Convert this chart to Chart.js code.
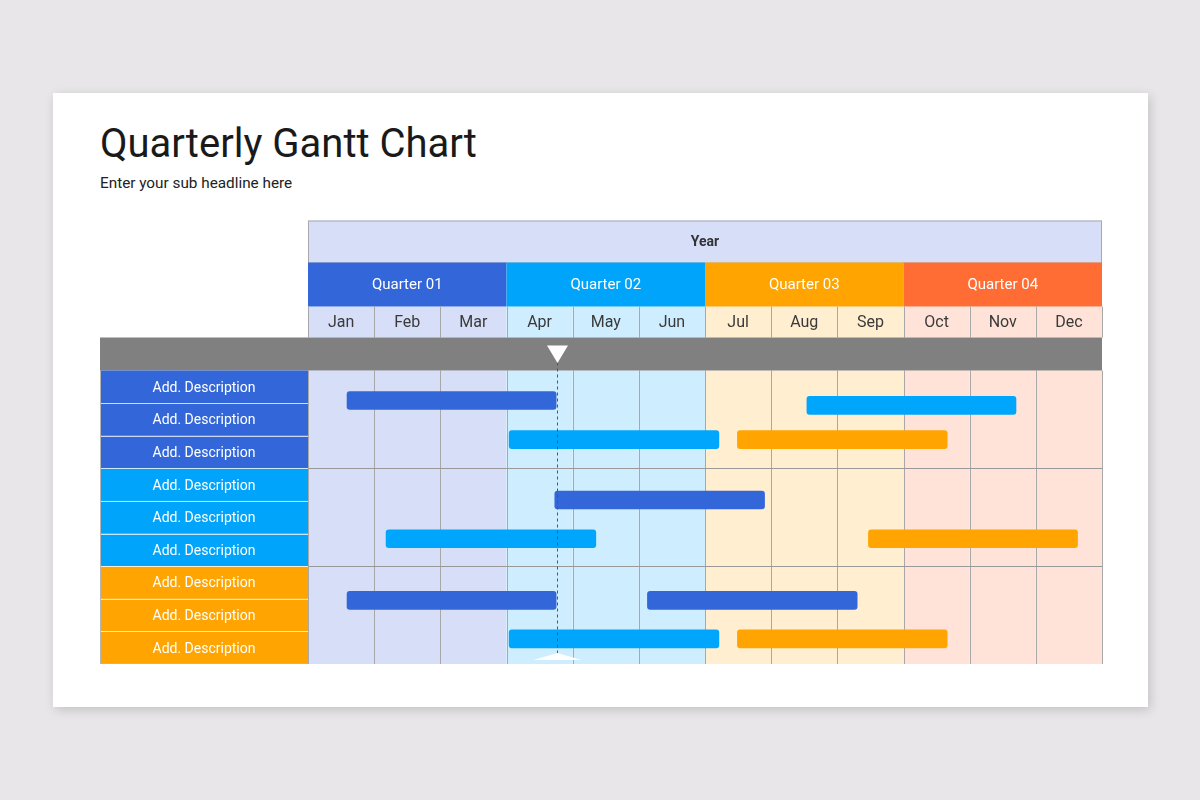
<!DOCTYPE html>
<html>
<head>
<meta charset="utf-8">
<script src="https://cdn.jsdelivr.net/npm/chart.js@4.4.1/dist/chart.umd.min.js"></script>
<style>
    html, body { margin: 0; padding: 0; background: #e8e6e8; width: 1200px; height: 800px; overflow: hidden; font-family: Roboto, "Noto Sans", sans-serif; }
    #card { position: absolute; left: 53px; top: 93px; width: 1095px; height: 614px; background: #fff; box-shadow: 2px 3px 10px rgba(0,0,0,.16); }
    #title { position: absolute; left: 100px; top: 124px; margin: 0; font-size: 40px; line-height: 40px; font-weight: 400; color: #1a1a1a; }
    #sub { position: absolute; left: 100px; top: 176px; font-size: 15.3px; line-height: 15px; color: #222; }
    #gantt { position: absolute; left: 0; top: 0; }
</style>
</head>
<body>
<div id="card"></div>
<h1 id="title">Quarterly Gantt Chart</h1>
<div id="sub">Enter your sub headline here</div>
<canvas id="gantt" width="1200" height="800"></canvas>
<script>
// ============================
// Data
// ============================
const YEAR_LABEL = "Year";
const QUARTERS = ["Quarter 01", "Quarter 02", "Quarter 03", "Quarter 04"];
const MONTHS = ["Jan", "Feb", "Mar", "Apr", "May", "Jun", "Jul", "Aug", "Sep", "Oct", "Nov", "Dec"];
const ROW_LABELS = [
    "Add. Description", "Add. Description", "Add. Description",
    "Add. Description", "Add. Description", "Add. Description",
    "Add. Description", "Add. Description", "Add. Description"
];

// task bars: start / end in months from Jan 1, lane = row position (0 = top of first row)
const TASK_START = [0.59, 7.54, 3.04, 6.49, 3.73, 1.18, 8.47, 0.59, 5.13, 3.04, 6.49];
const TASK_END   = [3.75, 10.70, 6.21, 9.66, 6.90, 4.35, 11.63, 3.75, 8.30, 6.21, 9.66];
const TASK_LANE  = [0.92, 1.07, 2.12, 2.12, 3.97, 5.16, 5.16, 7.05, 7.05, 8.23, 8.23];
const TASK_KIND  = [0, 1, 1, 2, 0, 1, 2, 0, 0, 1, 2];   // 0 = Q1 blue, 1 = Q2 blue, 2 = Q3 orange

const TODAY = 3.76;   // "now" marker, in months

// ============================
// Styles
// ============================
const QUARTER_COLORS = ["#3367d9", "#00a5fb", "#ffa400", "#ff6d34"];
const MONTH_FILLS    = ["#d6dff7", "#ceedfe", "#ffeecf", "#ffe3d8"];
const GROUP_COLORS   = ["#3367d9", "#00a5fb", "#ffa400"];
const KIND_COLORS    = ["#3367d9", "#00a6fb", "#ffa400"];
const FONT = "Roboto, 'Noto Sans', sans-serif";

const tasks = TASK_START.map((s, i) => ({ x: [s, TASK_END[i]], y: TASK_LANE[i] }));

// ============================
// Frame plugin (header rows, columns, labels)
// ============================
const ganttFrame = {
    id: "ganttFrame",
    beforeDatasetsDraw(chart) {
        const { ctx, chartArea: a, scales: { x, y } } = chart;
        const grayTop = a.top - 33, monthTop = a.top - 64, qTop = a.top - 108, yearTop = a.top - 150;
        const labelLeft = 100;

        ctx.save();

        // month columns (body + month header)
        for (let m = 0; m < MONTHS.length; m++) {
            const x0 = x.getPixelForValue(m), x1 = x.getPixelForValue(m + 1);
            ctx.fillStyle = MONTH_FILLS[Math.floor(m / 3)];
            ctx.fillRect(x0, a.top, x1 - x0, a.bottom - a.top);
            ctx.fillRect(x0, monthTop, x1 - x0, grayTop - monthTop);
        }

        // year row
        ctx.fillStyle = "#d6dff7";
        ctx.fillRect(a.left, yearTop, a.right - a.left, qTop - yearTop);
        ctx.strokeStyle = "#a9a9a9";
        ctx.lineWidth = 1;
        ctx.strokeRect(a.left + 0.5, yearTop + 0.5, a.right - a.left - 1, qTop - yearTop);
        ctx.fillStyle = "#333";
        ctx.font = "bold 14px " + FONT;
        ctx.textAlign = "center";
        ctx.textBaseline = "middle";
        ctx.fillText(YEAR_LABEL, (a.left + a.right) / 2, (yearTop + qTop) / 2 + 1);

        // quarter row
        for (let q = 0; q < QUARTERS.length; q++) {
            const x0 = x.getPixelForValue(q * 3), x1 = x.getPixelForValue(q * 3 + 3);
            ctx.fillStyle = QUARTER_COLORS[q];
            ctx.fillRect(x0, qTop, x1 - x0, monthTop - qTop);
            ctx.fillStyle = "#fff";
            ctx.font = "15px " + FONT;
            ctx.fillText(QUARTERS[q], (x0 + x1) / 2, (qTop + monthTop) / 2 + 1);
        }

        // month labels + separators
        ctx.font = "16px " + FONT;
        for (let m = 0; m < MONTHS.length; m++) {
            const x0 = x.getPixelForValue(m), x1 = x.getPixelForValue(m + 1);
            ctx.fillStyle = "#3a3a3a";
            ctx.fillText(MONTHS[m], (x0 + x1) / 2, (monthTop + grayTop) / 2 + 1);
        }
        ctx.strokeStyle = "#a8a8a8";
        ctx.beginPath();
        for (let m = 0; m <= MONTHS.length; m++) {
            const px = Math.round(x.getPixelForValue(m)) + 0.5;
            ctx.moveTo(px, monthTop); ctx.lineTo(px, grayTop);
            ctx.moveTo(px, a.top); ctx.lineTo(px, a.bottom);
        }
        ctx.stroke();

        // group lines
        ctx.strokeStyle = "#999";
        ctx.beginPath();
        for (const g of [3, 6]) {
            const py = Math.round(y.getPixelForValue(g)) + 0.5;
            ctx.moveTo(a.left, py); ctx.lineTo(a.right, py);
        }
        ctx.stroke();

        // gray band
        ctx.fillStyle = "#808080";
        ctx.fillRect(labelLeft, grayTop, a.right - labelLeft, a.top - grayTop);

        // row labels
        ctx.font = "14px " + FONT;
        for (let i = 0; i < ROW_LABELS.length; i++) {
            const y0 = y.getPixelForValue(i), y1 = y.getPixelForValue(i + 1);
            ctx.fillStyle = GROUP_COLORS[Math.floor(i / 3)];
            ctx.fillRect(labelLeft, y0, a.left - labelLeft, y1 - y0);
            ctx.fillStyle = "#fff";
            ctx.fillText(ROW_LABELS[i], (labelLeft + a.left) / 2, (y0 + y1) / 2 + 1.5);
        }
        ctx.strokeStyle = "rgba(255,255,255,.75)";
        ctx.beginPath();
        for (let i = 1; i < ROW_LABELS.length; i++) {
            const py = Math.round(y.getPixelForValue(i)) + 0.5;
            ctx.moveTo(labelLeft, py); ctx.lineTo(a.left, py);
        }
        ctx.stroke();
        ctx.strokeStyle = "#b5b5b5";
        ctx.beginPath();
        ctx.moveTo(labelLeft + 0.5, a.top); ctx.lineTo(labelLeft + 0.5, a.bottom);
        ctx.moveTo(labelLeft, a.bottom - 0.5); ctx.lineTo(a.left, a.bottom - 0.5);
        ctx.stroke();

        ctx.restore();
    },
    afterDatasetsDraw(chart) {
        const { ctx, chartArea: a, scales: { x } } = chart;
        const px = Math.round(x.getPixelForValue(TODAY)) + 0.5;
        ctx.save();

        // dashed "now" line
        ctx.strokeStyle = "#555";
        ctx.lineWidth = 1;
        ctx.setLineDash([3, 3]);
        ctx.beginPath();
        ctx.moveTo(px, a.top - 8);
        ctx.lineTo(px, a.bottom - 10);
        ctx.stroke();
        ctx.setLineDash([]);

        // top marker
        ctx.fillStyle = "#fff";
        ctx.beginPath();
        ctx.moveTo(px - 10.5, a.top - 25);
        ctx.lineTo(px + 10.5, a.top - 25);
        ctx.lineTo(px, a.top - 7.5);
        ctx.closePath();
        ctx.fill();

        // bottom marker
        ctx.beginPath();
        ctx.moveTo(px - 24, a.bottom - 4);
        ctx.lineTo(px, a.bottom - 11);
        ctx.lineTo(px + 24, a.bottom - 4);
        ctx.closePath();
        ctx.fill();

        ctx.restore();
    }
};

// ============================
// Chart
// ============================
new Chart(document.getElementById("gantt").getContext("2d"), {
    type: "bar",
    data: {
        datasets: [{
            data: tasks,
            backgroundColor: TASK_KIND.map(k => KIND_COLORS[k]),
            borderRadius: 3,
            borderSkipped: false,
            barThickness: 18
        }]
    },
    options: {
        indexAxis: "y",
        responsive: false,
        animation: false,
        events: [],
        layout: { padding: { left: 308, right: 98, top: 370.5, bottom: 136 } },
        plugins: { legend: { display: false }, tooltip: { enabled: false } },
        scales: {
            x: { type: "linear", min: 0, max: 12, display: false },
            y: { type: "linear", min: 0, max: 9, reverse: true, offset: false, display: false }
        }
    },
    plugins: [ganttFrame]
});
</script>
</body>
</html>
